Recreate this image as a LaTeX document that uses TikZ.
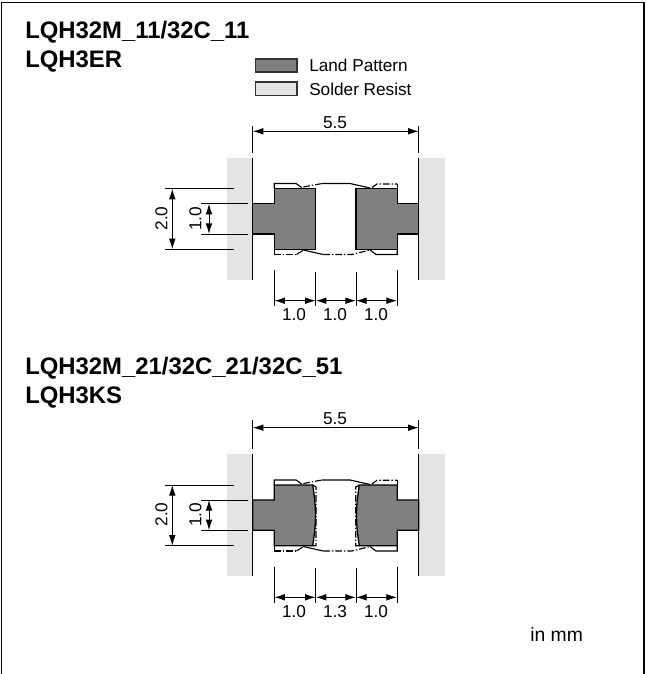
\documentclass[tikz,border=0pt]{standalone}
\usepackage{fontspec}
\setmainfont{Liberation Sans}
\usetikzlibrary{arrows.meta}
\tikzset{
  land/.style={draw=black,fill={rgb,255:red,128;green,128;blue,128},line width=1},
  resist/.style={fill={rgb,255:red,228;green,228;blue,228}},
  edge/.style={line width=0.9},
  dimline/.style={line width=0.7,{Latex[length=8pt,width=5pt]}-{Latex[length=8pt,width=5pt]}},
  extline/.style={line width=0.7},
  outl/.style={line width=0.85},
  dashdot/.style={line width=0.85,dash pattern={on 5pt off 1.5pt on 1pt off 1.5pt}},
  legendbox/.style={draw={rgb,255:red,50;green,50;blue,50},line width=1},
  heading/.style={anchor=base west,inner sep=0,font=\fontsize{17.9}{20}\selectfont\bfseries},
  label/.style={inner sep=0,font=\fontsize{12.9}{15}\selectfont},
}
\begin{document}
\begin{tikzpicture}[x=0.75pt,y=0.75pt,yscale=-1,xscale=1]
\useasboundingbox (0,0) rectangle (646,674);
%Frame
\draw [line width=0.9] (1.5,674) -- (1.5,2.5) -- (644,2.5) -- (644,674);
%Legend
\draw [legendbox,fill={rgb,255:red,128;green,128;blue,128}] (255.5,59) rectangle (297,72);
\draw [legendbox,fill={rgb,255:red,228;green,228;blue,228}] (255.5,82) rectangle (297,95.5);

%Upper: solder resist
\fill [resist] (227,158) rectangle (252.7,279.7);
\fill [resist] (418.7,158) rectangle (445,279.7);
\draw [edge] (252.7,158) -- (252.7,279.7);
\draw [edge] (418.7,158) -- (418.7,279.7);
%Upper: outline
\draw [outl] (274.3,188.7) -- (274.3,183.5) -- (296,183.5) -- (301.7,187.5);
\draw [dashdot] (303.3,187) -- (322,183.5);
\draw [outl] (322,183.5) -- (350,183.5) -- (370,188);
\draw [dashdot] (372,187.5) -- (377,184) -- (397.3,184);
\draw [outl] (397.3,184) -- (397.3,188.7);
\draw [outl] (274.3,249.3) -- (274.3,254.5);
\draw [dashdot] (274.3,254.5) -- (296.5,254.5);
\draw [outl] (296.5,254.5) -- (302.7,250.5);
\draw [outl] (303.3,250) -- (323.3,254.5);
\draw [dashdot] (323.3,254.5) -- (352,254.5) -- (370,250);
\draw [outl] (370,250) -- (376,254.5) -- (397.3,254.5) -- (397.3,249.3);
%Upper: land pattern
\draw [land] (252.7,203.7) -- (274.3,203.7) -- (274.3,188.7) -- (315.3,188.7) -- (315.3,249.3) -- (274.3,249.3) -- (274.3,234) -- (252.7,234) -- cycle;
\draw [land] (418.7,203.7) -- (397.3,203.7) -- (397.3,188.7) -- (356,188.7) -- (356,249.3) -- (397.3,249.3) -- (397.3,234) -- (418.7,234) -- cycle;
%Upper: dimensions
\draw [extline] (252.7,126) -- (252.7,152.7);
\draw [extline] (418.7,126) -- (418.7,152.7);
\draw [dimline] (252.7,131.3) -- (418.7,131.3);
\draw [extline] (165,188.7) -- (234.3,188.7);
\draw [extline] (165,249.3) -- (234.3,249.3);
\draw [extline] (201,203.7) -- (248.3,203.7);
\draw [extline] (201,234) -- (248.3,234);
\draw [dimline] (172.3,188.7) -- (172.3,249.3);
\draw [dimline] (209,203.7) -- (209,234);
\draw [extline] (274.3,270) -- (274.3,306);
\draw [extline] (315.7,272) -- (315.7,306);
\draw [extline] (356,272) -- (356,306);
\draw [extline] (397,270) -- (397,306);
\draw [dimline] (274.3,300.7) -- (315.7,300.7);
\draw [dimline] (315.7,300.7) -- (356,300.7);
\draw [dimline] (356,300.7) -- (397,300.7);

%Lower: solder resist
\fill [resist] (227,454) rectangle (252.7,575.7);
\fill [resist] (418.7,454) rectangle (445,575.7);
\draw [edge] (252.7,454) -- (252.7,575.7);
\draw [edge] (418.7,454) -- (418.7,575.7);
%Lower: outline
\draw [outl] (274.3,485) -- (274.3,480) -- (296,480) -- (301.7,484);
\draw [dashdot] (303.3,483.5) -- (322,480);
\draw [outl] (322,480) -- (350,480) -- (370,484.5);
\draw [dashdot] (372,484) -- (377,480.3) -- (397.3,480.3);
\draw [outl] (397.3,480.3) -- (397.3,485);
\draw [outl] (274.3,545.7) -- (274.3,551);
\draw [dashdot] (274.3,551) -- (296.5,551);
\draw [outl] (296.5,551) -- (302.7,547);
\draw [outl] (303.3,546.5) -- (323.3,551);
\draw [dashdot] (323.3,551) -- (352,551) -- (370,546.5);
\draw [outl] (370,546.5) -- (376,551) -- (397.3,551) -- (397.3,545.7);
\draw [dashdot] (312.7,485) -- (316,487) -- (316,545.7) -- (312.7,545.7);
\draw [dashdot] (359.3,485) -- (355.7,487) -- (355.7,545.7) -- (359.3,545.7);
%Lower: land pattern
\draw [land] (252.7,500) -- (274.3,500) -- (274.3,485) -- (312.7,485) .. controls (314.5,497) and (315.5,505) .. (315.5,515) .. controls (315.5,526) and (314.5,534) .. (312.7,545.7) -- (274.3,545.7) -- (274.3,530.3) -- (252.7,530.3) -- cycle;
\draw [land] (418.7,500) -- (397.3,500) -- (397.3,485) -- (359.3,485) .. controls (357.5,497) and (356.5,505) .. (356.5,515) .. controls (356.5,526) and (357.5,534) .. (359.3,545.7) -- (397.3,545.7) -- (397.3,530.3) -- (418.7,530.3) -- cycle;
%Lower: dimensions
\draw [extline] (252.7,420) -- (252.7,448.7);
\draw [extline] (418.7,420) -- (418.7,448.7);
\draw [dimline] (252.7,427.7) -- (418.7,427.7);
\draw [extline] (165,485) -- (234.3,485);
\draw [extline] (165,545.7) -- (234.3,545.7);
\draw [extline] (201,500) -- (248.3,500);
\draw [extline] (201,530.3) -- (248.3,530.3);
\draw [dimline] (172.3,485) -- (172.3,545.7);
\draw [dimline] (209,500) -- (209,530.3);
\draw [extline] (274.3,566.7) -- (274.3,603);
\draw [extline] (315.7,568) -- (315.7,603);
\draw [extline] (356,568) -- (356,603);
\draw [extline] (397,566.7) -- (397,603);
\draw [dimline] (274.3,597.3) -- (315.7,597.3);
\draw [dimline] (315.7,597.3) -- (356,597.3);
\draw [dimline] (356,597.3) -- (397,597.3);

% Text Node
\node [heading] (headA) at (25,38.5) {LQH32M\_11/32C\_11};
\node [heading] (headB) at (25,67.5) {LQH3ER};
\node [heading] (headC) at (25,374.5) {LQH32M\_21/32C\_21/32C\_51};
\node [heading] (headD) at (25,403.5) {LQH3KS};
\node [label,anchor=west] (legendLand) at (309,65.5) {Land Pattern};
\node [label,anchor=west] (legendResist) at (309,89) {Solder Resist};
\node [label] (upperTotal) at (335,122.5) {5.5};
\node [label,rotate=90] (upperTwo) at (161.5,218.5) {2.0};
\node [label,rotate=90] (upperOne) at (195.5,219) {1.0};
\node [label] (upperA) at (294,314.5) {1.0};
\node [label] (upperB) at (335,314.5) {1.0};
\node [label] (upperC) at (376,314.5) {1.0};
\node [label] (lowerTotal) at (335,419) {5.5};
\node [label,rotate=90] (lowerTwo) at (161.5,514.5) {2.0};
\node [label,rotate=90] (lowerOne) at (195.5,515) {1.0};
\node [label] (lowerA) at (294,611.5) {1.0};
\node [label] (lowerB) at (335,611.5) {1.3};
\node [label] (lowerC) at (376,611.5) {1.0};
\node [label,anchor=base west,font=\fontsize{14.5}{16}\selectfont] (unit) at (530,641.5) {in mm};
\end{tikzpicture}
\end{document}
